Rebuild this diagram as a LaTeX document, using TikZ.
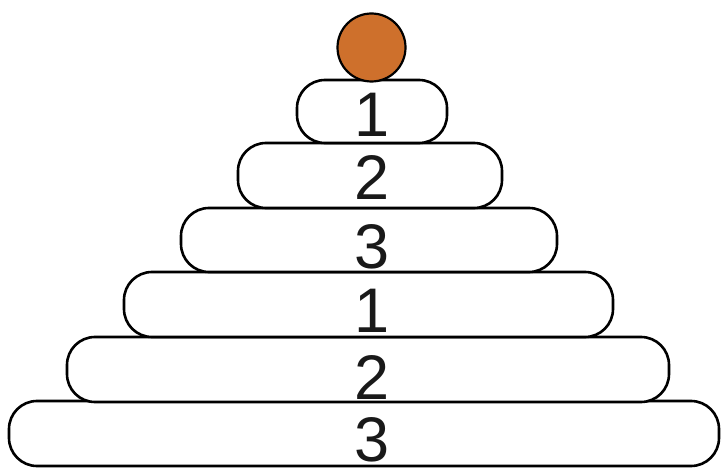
\documentclass[tikz,border=0pt]{standalone}
\usepackage{fontspec}
\setmainfont{Liberation Sans}
\definecolor{ballorange}{RGB}{206,112,44}
\begin{document}
\begin{tikzpicture}[x=1pt,y=-1pt,
  disk/.style={draw=black, line width=2.6pt, fill=white, rounded corners=28pt, inner sep=0pt},
  num/.style={font=\fontsize{63}{63}\selectfont, text=black!90, inner sep=0pt}]
\useasboundingbox (0,0) rectangle (721,468);
% disks from bottom to top: name, x1, y1, x2, y2, baseline, digit
\newcommand{\mydisk}[7]{%
  \draw[disk] (#2,#3) rectangle (#4,#5);
  \node[num, anchor=base] (#1) at (372,#6) {#7};
}
\mydisk{d6}{9}{401}{719}{466}{461}{3}
\mydisk{d5}{67}{337}{669}{402}{399}{2}
\mydisk{d4}{124}{272}{613}{337}{332}{1}
\mydisk{d3}{181}{208}{557}{272}{269}{3}
\mydisk{d2}{238}{143}{502}{208}{200}{2}
\mydisk{d1}{297}{80}{447}{143}{137}{1}
\node[circle, draw=black, line width=2.2pt, fill=ballorange, minimum size=68pt, inner sep=0pt] (ball) at (371.5,47.5) {};
\end{tikzpicture}
\end{document}
